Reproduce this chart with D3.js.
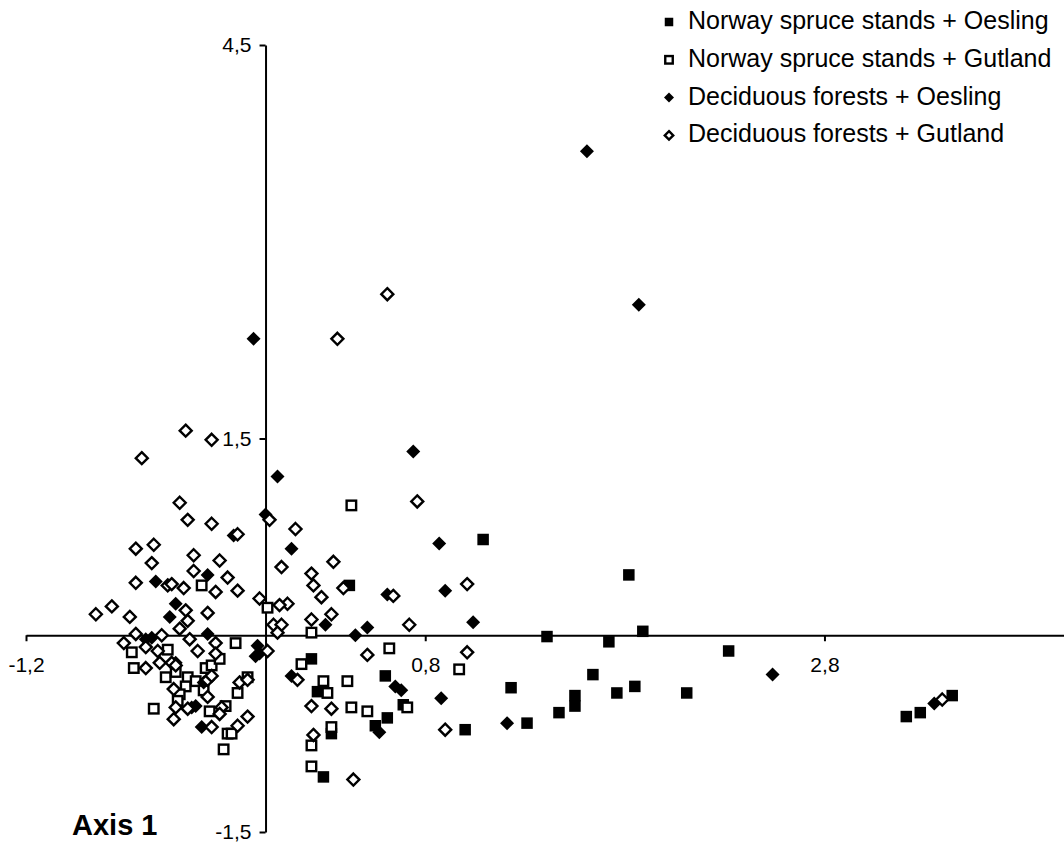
<!DOCTYPE html>
<html>
<head>
<meta charset="utf-8">
<script src="https://cdn.jsdelivr.net/npm/d3@7"></script>
<style>
	body{margin:0;background:#fff;}
	svg{display:block;font-family:"Liberation Sans",Arial,sans-serif;}
	.axis path,.axis line{stroke:#000;stroke-width:2px;}
	.axis text{font-size:21px;}
</style>
</head>
<body>
<div id="chart"></div>
<script>
// series names, in legend order
var seriesNames = ["Norway spruce stands + Oesling","Norway spruce stands + Gutland","Deciduous forests + Oesling","Deciduous forests + Gutland"];
var xTicks = [-1.2,0.8,2.8];
var yTicks = [-1.5,1.5,4.5];

// [axis1, axis2]
var spruceOesling = [[1.09,0.73],[1.82,0.46],[1.89,0.03],[1.41,-0.01],[1.72,-0.05],[2.32,-0.12],[1.64,-0.30],[1.23,-0.40],
	[1.55,-0.46],[1.76,-0.44],[1.85,-0.39],[2.11,-0.44],[1.55,-0.54],[1.47,-0.59],[1.31,-0.67],[1.00,-0.72],[0.42,0.38],
	[0.23,-0.18],[0.26,-0.43],[0.60,-0.31],[0.61,-0.63],[0.55,-0.69],[0.33,-0.75],[0.29,-1.08],[0.69,-0.53],
	[3.21,-0.62],[3.28,-0.59],[3.44,-0.46]];
var spruceGutland = [[0.43,0.99],[-0.32,0.38],[0.01,0.21],[0.23,0.02],[0.62,-0.10],[0.97,-0.26],[0.18,-0.22],[0.29,-0.35],
	[0.41,-0.35],[0.31,-0.44],[0.43,-0.55],[0.51,-0.58],[0.71,-0.55],[0.33,-0.70],[0.23,-0.84],[0.23,-1.00],[-0.15,-0.06],
	[-0.67,-0.13],[-0.49,-0.11],[-0.66,-0.25],[-0.50,-0.32],[-0.45,-0.28],[-0.39,-0.32],[-0.40,-0.39],[-0.35,-0.35],
	[-0.30,-0.25],[-0.27,-0.23],[-0.23,-0.18],[-0.31,-0.42],[-0.43,-0.45],[-0.44,-0.50],[-0.56,-0.56],[-0.28,-0.58],
	[-0.20,-0.54],[-0.19,-0.75],[-0.17,-0.75],[-0.21,-0.87],[-0.14,-0.44],[-0.09,-0.32]];
var decidOesling = [[1.61,3.69],[1.87,2.52],[-0.06,2.26],[0.74,1.40],[0.06,1.21],[0.00,0.92],[0.13,0.66],[0.87,0.70],
	[0.90,0.34],[1.04,0.10],[0.61,0.31],[0.30,0.08],[0.45,0.00],[0.51,0.06],[0.88,-0.48],[1.21,-0.67],[2.54,-0.30],
	[0.13,-0.31],[0.65,-0.39],[0.68,-0.42],[0.57,-0.74],[3.35,-0.52],[-0.16,0.76],[-0.55,0.41],[-0.29,0.46],[-0.45,0.24],
	[-0.48,0.14],[-0.60,-0.03],[-0.57,-0.02],[-0.29,0.01],[-0.04,-0.08],[-0.03,-0.14],[-0.05,-0.16],[-0.37,-0.55],
	[-0.35,-0.54],[-0.32,-0.70],[-0.31,-0.36],[-0.45,-0.21]];
var decidGutland = [[0.61,2.60],[0.36,2.26],[-0.40,1.56],[-0.27,1.49],[-0.62,1.35],[0.76,1.02],[-0.43,1.01],[-0.39,0.88],
	[-0.27,0.85],[-0.14,0.77],[0.02,0.88],[0.15,0.81],[-0.65,0.66],[-0.56,0.69],[-0.57,0.55],[-0.36,0.61],[-0.23,0.57],
	[-0.36,0.49],[-0.65,0.40],[-0.49,0.38],[-0.47,0.39],[-0.41,0.36],[-0.25,0.33],[-0.14,0.34],[-0.19,0.44],[-0.03,0.28],
	[-0.85,0.16],[-0.77,0.22],[-0.68,0.14],[-0.40,0.19],[-0.39,0.11],[-0.43,0.05],[-0.29,0.17],[0.08,0.52],[0.34,0.56],
	[0.23,0.47],[0.24,0.38],[0.28,0.29],[0.39,0.36],[0.64,0.30],[1.01,0.39],[0.33,0.16],[0.23,0.12],[0.11,0.24],[0.07,0.23],
	[0.04,0.08],[0.08,0.08],[0.06,0.02],[0.72,0.08],[0.51,-0.15],[1.01,-0.13],[0.16,-0.34],[0.23,-0.54],[0.33,-0.56],
	[0.90,-0.72],[0.24,-0.76],[0.44,-1.10],[0.01,-0.12],[3.39,-0.49],[-0.71,-0.06],[-0.65,0.01],[-0.52,0.00],[-0.38,-0.03],
	[-0.34,-0.12],[-0.25,-0.06],[-0.60,-0.09],[-0.54,-0.12],[-0.53,-0.21],[-0.47,-0.21],[-0.45,-0.23],[-0.60,-0.25],
	[-0.46,-0.41],[-0.25,-0.14],[-0.29,-0.34],[-0.27,-0.31],[-0.29,-0.47],[-0.45,-0.55],[-0.39,-0.56],[-0.22,-0.55],
	[-0.23,-0.60],[-0.46,-0.64],[-0.27,-0.70],[-0.14,-0.69],[-0.09,-0.62],[-0.13,-0.36],[-0.09,-0.34]];

var W = 1064, H = 842;
var svg = d3.select("#chart").append("svg").attr("width",W).attr("height",H);

var x = d3.scaleLinear().domain([-1.2,4.0]).range([26,1064]);
var y = d3.scaleLinear().domain([-1.5,4.5]).range([832,45]);
// decimal comma, plain hyphen for negatives
var fmt = function(d){return d3.format(".1f")(d).replace(".",",").replace("\u2212","-");};

var xAxis = svg.append("g").classed("axis",true)
	.attr("transform","translate(0,"+y(0)+")")
	.call(d3.axisBottom(x).tickValues(xTicks).tickFormat(fmt).tickSize(6).tickSizeOuter(0).tickPadding(16));
var yAxis = svg.append("g").classed("axis",true)
	.attr("transform","translate("+x(0)+",0)")
	.call(d3.axisLeft(y).tickValues(yTicks).tickFormat(fmt).tickSize(6).tickSizeOuter(0).tickPadding(8));
svg.selectAll(".axis").attr("font-size",21).attr("font-family",null);
svg.selectAll(".axis text").attr("fill","#000").attr("font-size",21);

svg.append("text")
	.attr("x",72).attr("y",835)
	.attr("font-size","29px").attr("font-weight","bold")
	.text("Axis 1");

// marker shapes
function square(g,s,filled){
	g.append("rect").attr("x",-s/2).attr("y",-s/2).attr("width",s).attr("height",s)
		.attr("fill",filled?"#000":"#fff").attr("stroke","#000").attr("stroke-width",filled?0:2.4);
}
function diamond(g,s,filled){
	var r = s/2;
	g.append("path").attr("d","M0,"+(-r)+"L"+r+",0L0,"+r+"L"+(-r)+",0Z")
		.attr("fill",filled?"#000":"#fff").attr("stroke","#000").attr("stroke-width",filled?0:2.4)
		.attr("stroke-linejoin","miter");
}
var series = [
	{data:spruceOesling, draw:function(g){square(g,11.5,true);}},
	{data:spruceGutland, draw:function(g){square(g,9.5,false);}},
	{data:decidOesling, draw:function(g){diamond(g,14,true);}},
	{data:decidGutland, draw:function(g){diamond(g,12,false);}}
];
series.forEach(function(s,i){
	svg.append("g").classed("series s"+i,true)
		.selectAll("g.pt").data(s.data).enter().append("g").classed("pt",true)
		.attr("transform",function(d){return "translate("+x(d[0])+","+y(d[1])+")";})
		.each(function(){s.draw(d3.select(this));});
});

// legend
var legendDraw = [
	function(g){square(g,8.5,true);},
	function(g){square(g,7.5,false);},
	function(g){diamond(g,10,true);},
	function(g){diamond(g,8.5,false);}
];
var legend = svg.append("g").attr("transform","translate(669,0)");
seriesNames.forEach(function(name,i){
	var ly = 29 + i*37.8;
	var g = legend.append("g").attr("transform","translate(0,"+(ly-7)+")");
	legendDraw[i](g);
	legend.append("text").attr("x",19).attr("y",ly).style("font-size","25px").text(name);
});
</script>
</body>
</html>
